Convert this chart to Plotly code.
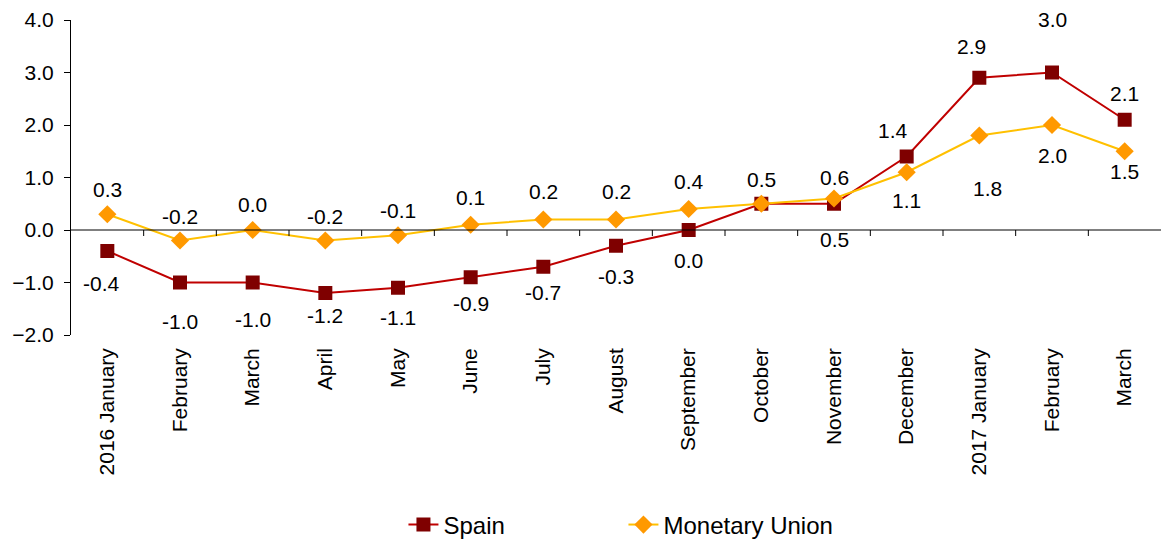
import plotly.graph_objects as go

months = ["2016 January", "February", "March", "April", "May", "June", "July",
          "August", "September", "October", "November", "December",
          "2017 January", "February", "March"]
spain = [-0.4, -1.0, -1.0, -1.2, -1.1, -0.9, -0.7, -0.3, 0.0, 0.5, 0.5, 1.4, 2.9, 3.0, 2.1]
monetary_union = [0.3, -0.2, 0.0, -0.2, -0.1, 0.1, 0.2, 0.2, 0.4, 0.5, 0.6, 1.1, 1.8, 2.0, 1.5]

# label offsets (pixels) for the value annotations
spain_dy = [-32, -39, -37, -22, -30, -26, -26, -31, -30, 26, -36, 26, 31, 53, 26]
spain_dx = [-6, 0, 0, 0, 0, 0, 0, 0, 0, 0, 0, -14, -8, 0, 0]
mu_dy = [25, 24, 26, 24, 25, 27, 28, 28, 28, 24, 21, -28, -53, -30, -20]
mu_dx = [0, 0, 0, 0, 0, 0, 0, 0, 0, 0, 0, 0, 8, 0, 0]

x = list(range(len(months)))
font = "Liberation Sans, Arial, sans-serif"

fig = go.Figure()
fig.add_trace(go.Scatter(
    x=x, y=spain, name="Spain", mode="lines+markers",
    line=dict(color="#C00000", width=2),
    marker=dict(symbol="square", size=14, color="#7F0000"),
))
fig.add_trace(go.Scatter(
    x=x, y=monetary_union, name="Monetary Union", mode="lines+markers",
    line=dict(color="#FFC000", width=2),
    marker=dict(symbol="diamond", size=14, color="#FF9900"),
))

annotations = []
for i, v in enumerate(spain):
    if i == 9:
        continue
    annotations.append(dict(x=x[i], y=v, text=f"{v:.1f}", showarrow=False,
                            xshift=spain_dx[i], yshift=spain_dy[i],
                            font=dict(size=21, color="#000000", family=font)))
for i, v in enumerate(monetary_union):
    annotations.append(dict(x=x[i], y=v, text=f"{v:.1f}", showarrow=False,
                            xshift=mu_dx[i], yshift=mu_dy[i],
                            font=dict(size=21, color="#000000", family=font)))

# zero line and small ticks between categories
shapes = [dict(type="line", xref="paper", yref="y", x0=0, x1=1, y0=0, y1=0,
               line=dict(color="#000000", width=1))]
for i in range(1, len(months)):
    shapes.append(dict(type="line", xref="x", yref="y", ysizemode="pixel", yanchor=0,
                       x0=i - 0.5, x1=i - 0.5, y0=0, y1=-6,
                       line=dict(color="#000000", width=1)))

fig.update_layout(
    width=1163, height=543,
    margin=dict(l=71, r=2, t=20, b=208, autoexpand=False),
    paper_bgcolor="white", plot_bgcolor="white",
    font=dict(family=font, size=20, color="#000000"),
    showlegend=True,
    legend=dict(orientation="h", x=0.305, xanchor="left", y=-0.603, yanchor="middle",
                font=dict(size=24), entrywidth=175, entrywidthmode="pixels"),
    annotations=annotations,
    shapes=shapes,
)
fig.update_xaxes(
    range=[-0.5, len(months) - 0.5],
    tickmode="array", tickvals=x, ticktext=months, tickangle=-90,
    showgrid=False, zeroline=False, showline=False, ticks="",
    ticklabelstandoff=8, automargin=False,
    tickfont=dict(size=21),
)
fig.update_yaxes(
    range=[-2, 4], dtick=1, tickformat=".1f",
    showgrid=False, zeroline=False, showline=True, linecolor="#000000", linewidth=1,
    ticks="outside", ticklen=6, tickcolor="#000000",
    ticklabelstandoff=6, automargin=False,
    tickfont=dict(size=21),
)

fig.write_html("out.html")
